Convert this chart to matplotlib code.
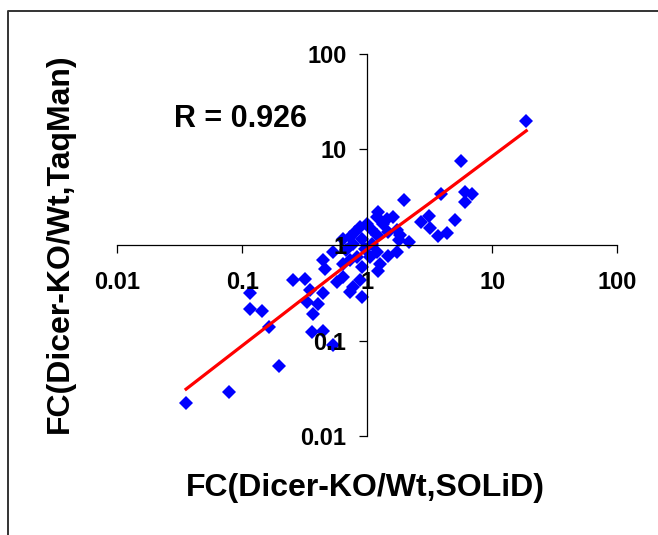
import matplotlib
matplotlib.use("Agg")
import matplotlib.pyplot as plt
from matplotlib.lines import Line2D

plt.rcParams['font.family'] = ['Liberation Sans', 'DejaVu Sans']

# FC values (SOLiD on x, TaqMan on y)
fc_solid = [18.7, 5.67, 3.87, 6.0, 6.88, 6.1, 1.98, 5.06, 4.34, 3.71, 3.19, 2.69, 3.09,
            2.14, 1.82, 1.72, 1.61, 1.43, 1.47, 1.19, 1.22, 1.34, 1.08, 1.19, 0.99, 0.875,
            0.80, 0.90, 0.73, 0.77, 0.64, 0.535, 0.445, 0.46, 0.64, 0.73, 0.82, 0.90, 1.05,
            1.19, 1.26, 1.47, 1.72, 0.64, 0.57, 0.77, 0.875, 0.73, 0.90, 0.318, 0.348, 0.405,
            0.327, 0.253, 0.445, 0.37, 0.359, 0.445, 0.53, 0.116, 0.116, 0.1425, 0.164, 0.197,
            0.0776, 0.0355, 1.21, 1.79, 0.95, 1.1, 0.68]
fc_taqman = [19.9, 7.49, 3.46, 3.59, 3.42, 2.80, 2.99, 1.83, 1.35, 1.24, 1.50, 1.76, 2.01,
             1.07, 1.26, 1.42, 1.95, 1.88, 1.36, 1.95, 2.24, 1.67, 1.48, 1.26, 1.67, 1.54,
             1.36, 1.16, 1.21, 1.03, 1.16, 0.84, 0.69, 0.56, 0.635, 0.69, 0.745, 0.585, 0.745,
             0.84, 0.635, 0.776, 0.84, 0.46, 0.41, 0.36, 0.425, 0.32, 0.284, 0.443, 0.334, 0.242,
             0.252, 0.425, 0.316, 0.19, 0.122, 0.127, 0.0887, 0.316, 0.214, 0.203, 0.137, 0.054,
             0.0291, 0.0224, 0.54, 1.13, 0.9, 1.02, 0.88]

# trend line
trend_x = [0.0355, 1.1, 3.1, 18.7]
trend_y = [0.031, 1.0, 2.7, 15.7]

ticks = [0.01, 0.1, 1, 10, 100]
tick_labels = ['0.01', '0.1', '1', '10', '100']

fig = plt.figure(figsize=(6.58, 5.35), dpi=100)
ax = fig.add_axes([0.1783, 0.185, 0.7598, 0.7141])

ax.plot(fc_solid, fc_taqman, linestyle='none', marker='D', ms=7.4, mew=0, color='#0000FF', zorder=1)
ax.plot(trend_x, trend_y, color='#FF0000', lw=2.3, zorder=2)

ax.set_xscale('log')
ax.set_yscale('log')
ax.set_xlim(0.01, 100)
ax.set_ylim(0.01, 100)

ax.spines['top'].set_visible(False)
ax.spines['right'].set_visible(False)
ax.spines['left'].set_position(('data', 1))
ax.spines['bottom'].set_position(('data', 1))
for s in ['left', 'bottom']:
    ax.spines[s].set_linewidth(0.9)

ax.minorticks_off()
ax.set_xticks(ticks)
ax.set_xticklabels(tick_labels)
ax.set_yticks(ticks)
ax.set_yticklabels(tick_labels)
ax.tick_params(axis='x', direction='out', length=6, width=0.9, pad=13, labelsize=17)
ax.tick_params(axis='y', direction='out', length=6, width=0.9, pad=9, labelsize=17)
for lab in ax.get_xticklabels() + ax.get_yticklabels():
    lab.set_fontweight('bold')
ax.patch.set_visible(False)

fig.text(0.365, 0.778, 'R = 0.926', ha='center', va='center', fontsize=22, fontweight='bold')
fig.text(0.556, 0.088, 'FC(Dicer-KO/Wt,SOLiD)', ha='center', va='center', fontsize=23, fontweight='bold')
fig.text(0.091, 0.545, 'FC(Dicer-KO/Wt,TaqMan)', ha='center', va='center', rotation=90,
         fontsize=23, fontweight='bold')

# outer frame (left and top edges only visible)
fig.add_artist(Line2D([8/658, 8/658, 1.0], [0.0, 1 - 11/535, 1 - 11/535],
                      transform=fig.transFigure, color='#333333', lw=1.4))

plt.savefig('out.png', dpi=100)
